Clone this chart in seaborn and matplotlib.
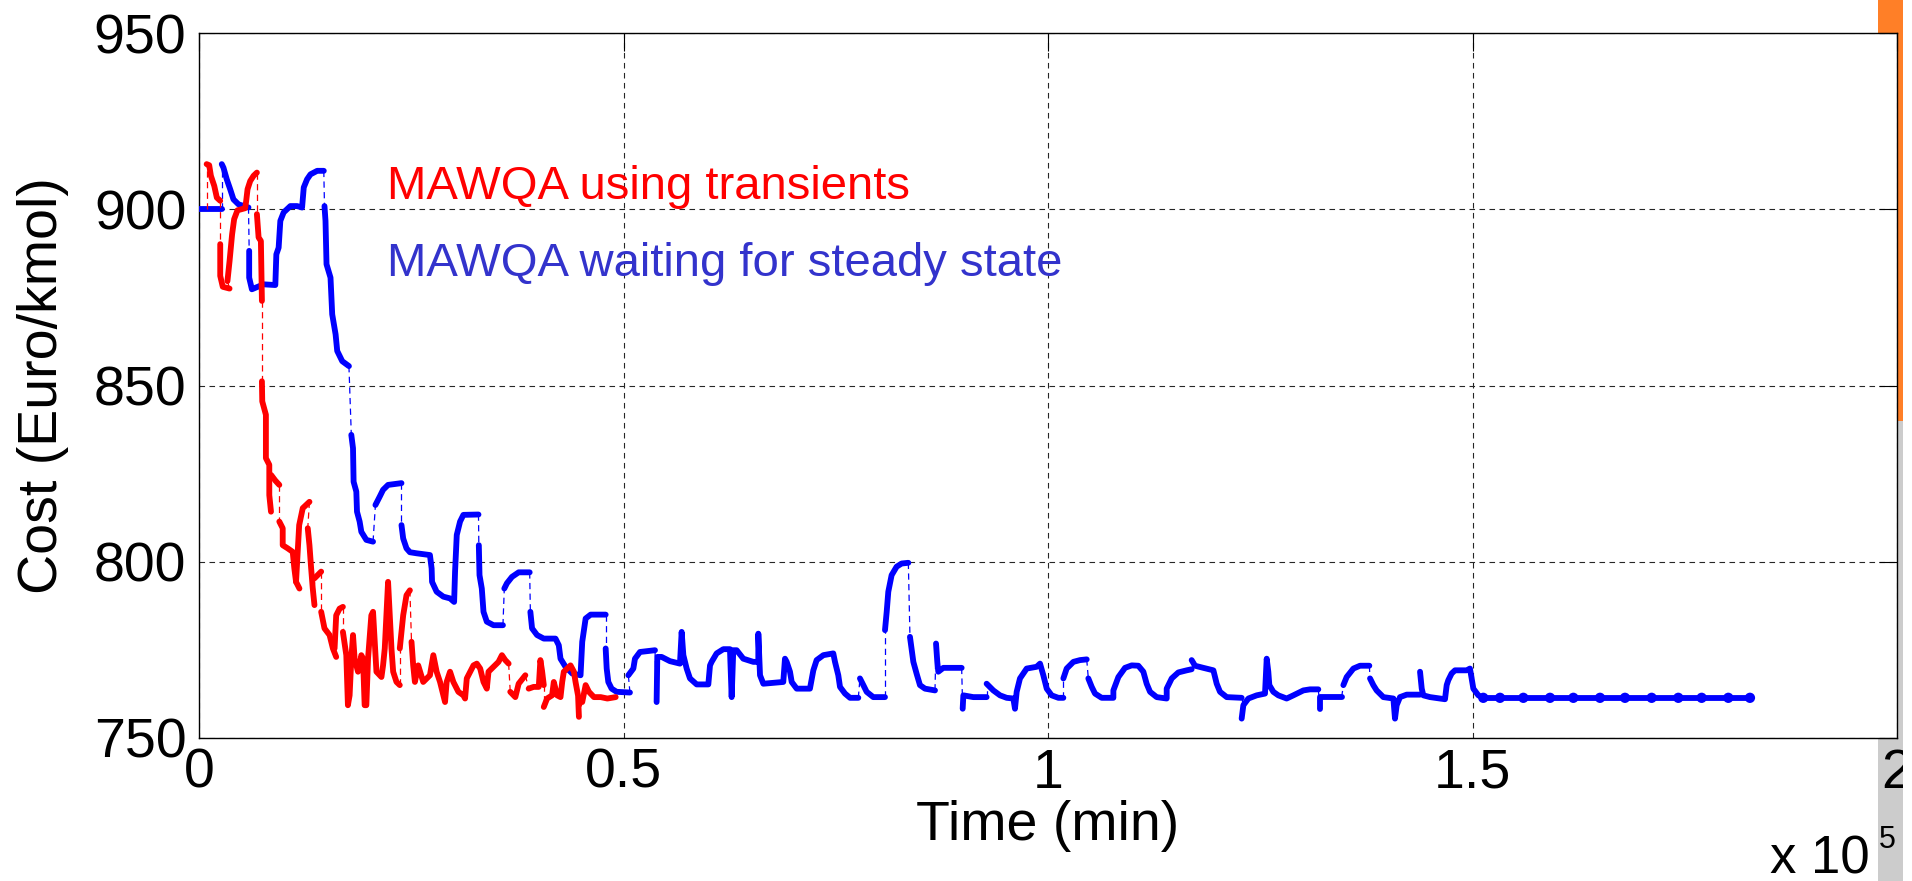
import numpy as np
import pandas as pd
import matplotlib
matplotlib.use("Agg")
import matplotlib.pyplot as plt
import seaborn as sns
from matplotlib.patches import Rectangle

# Time in units of 1e5 min, cost in Euro/kmol.
# None marks a break: thick pieces are joined by thin dashed jumps.
red_points = [
    (0.009, 900.0), None,
    (0.009, 912.8), (0.012, 912.5), (0.014, 909.5), (0.018, 906.6), (0.021, 903.3), (0.025, 902.4), None,
    (0.025, 890.1), (0.025, 881.1), (0.028, 878.0), (0.036, 877.5), None,
    (0.0335, 879.6), (0.036, 885.3), (0.039, 892.9), (0.0414, 897.2), (0.0453, 899.7), (0.0544, 900.3),
    (0.0556, 902.4), (0.0572, 905.7), (0.0603, 908.0), (0.0643, 909.5), (0.0682, 910.4), None,
    (0.0682, 898.6), (0.0702, 892.0), (0.0729, 891.0), (0.0741, 874.0), None,
    (0.0741, 851.2), (0.0745, 845.5), (0.0788, 841.7), (0.0788, 829.4), (0.0828, 827.5), (0.0828, 818.9),
    (0.0848, 814.2), None,
    (0.085, 824.6), (0.09, 823.0), (0.0946, 821.8), None,
    (0.0946, 811.4), (0.0986, 809.5), (0.0986, 804.7), (0.1045, 803.8), (0.1104, 802.8), (0.1123, 798.1),
    (0.1143, 794.3), (0.1183, 792.4), None,
    (0.1143, 794.3), (0.118, 810.4), (0.1222, 815.2), (0.1301, 817.0), None,
    (0.1281, 809.5), (0.1301, 804.7), (0.1321, 798.1), (0.134, 792.4), (0.136, 787.7), None,
    (0.136, 795.3), (0.1439, 797.2), None,
    (0.1439, 785.8), (0.1478, 781.1), (0.1538, 779.2), (0.1577, 775.4), (0.1616, 773.0), None,
    (0.1597, 775.4), (0.1616, 784.8), (0.1656, 786.7), (0.1695, 787.2), None,
    (0.1695, 780.1), (0.1735, 773.5), (0.1754, 759.3), (0.1774, 762.1), (0.1794, 772.5), (0.1814, 779.2),
    (0.1833, 772.5), (0.1873, 768.8), (0.1892, 770.6), (0.1912, 773.5), (0.1932, 772.5), (0.1951, 759.3),
    (0.1971, 759.3), (0.1991, 772.5), (0.203, 784.8), (0.205, 785.8), (0.207, 777.3), (0.209, 768.8),
    (0.2149, 767.3), (0.2168, 770.6), (0.2188, 775.4), (0.2227, 794.3), (0.2247, 784.8), (0.2267, 775.4),
    (0.2287, 768.8), (0.2326, 765.9), (0.2365, 765.0), None,
    (0.2365, 775.4), (0.2405, 784.8), (0.2444, 790.5), (0.2484, 791.9), None,
    (0.2503, 777.3), (0.2523, 770.6), (0.2543, 765.9), (0.2582, 770.6), (0.2641, 765.9), (0.272, 767.8),
    (0.276, 773.5), (0.2799, 768.8), (0.2839, 765.9), (0.2898, 760.2), (0.2917, 765.9), (0.2957, 768.8),
    (0.2996, 765.9), (0.3055, 763.1), (0.3114, 762.1), (0.3134, 761.2), (0.3154, 766.9), (0.3233, 770.6),
    (0.3272, 771.1), (0.3312, 769.7), (0.3351, 765.9), (0.339, 764.0), (0.341, 768.8), (0.3469, 770.2),
    (0.3528, 771.6), (0.3568, 773.5), (0.3607, 772.1), (0.3647, 771.1), None,
    (0.3666, 763.1), (0.3726, 761.6), (0.3765, 765.4), (0.3844, 767.8), None,
    (0.3883, 764.0), (0.3942, 764.5), (0.4002, 764.5), (0.4021, 772.1), (0.4041, 769.0), (0.4061, 765.0), None,
    (0.4061, 758.8), (0.41, 761.2), (0.4159, 762.1), (0.4179, 765.9), (0.4218, 762.1), (0.4258, 761.6),
    (0.4278, 765.9), (0.4297, 768.8), (0.4337, 769.7), (0.4376, 770.6), (0.4396, 769.7), (0.4416, 768.8),
    (0.4435, 765.9), (0.4465, 762.0), (0.4475, 756.0), None,
    (0.4514, 760.2), (0.4554, 765.0), (0.4593, 763.1), (0.4652, 761.6), (0.4731, 761.6), (0.481, 761.2),
    (0.4908, 761.6),
]

blue_points = [
    (0.0, 900.0), (0.0268, 900.0), None,
    (0.0268, 912.8), (0.0288, 911.8), (0.0327, 908.5), (0.0367, 905.7), (0.0406, 902.8), (0.0465, 901.4),
    (0.0583, 900.5), None,
    (0.0591, 888.2), (0.0591, 880.6), (0.0623, 877.3), (0.0761, 878.7), (0.0899, 878.5), (0.0911, 887.2),
    (0.0938, 889.1), (0.0958, 896.7), (0.0997, 899.1), (0.1076, 900.9), (0.1155, 900.9), (0.1214, 900.5),
    (0.1234, 906.2), (0.1273, 908.5), (0.1313, 909.9), (0.1392, 910.9), (0.147, 910.9), None,
    (0.1478, 900.9), (0.149, 896.7), (0.1502, 884.4), (0.1549, 880.6), (0.1569, 870.2), (0.1609, 864.5),
    (0.1628, 859.8), (0.1687, 856.9), (0.1766, 855.5), None,
    (0.1794, 836.0), (0.1814, 832.2), (0.1821, 822.7), (0.1853, 819.9), (0.1861, 814.2), (0.1892, 811.4),
    (0.1912, 808.5), (0.1971, 806.2), (0.205, 805.7), None,
    (0.2078, 816.1), (0.2129, 818.5), (0.2168, 820.4), (0.2227, 821.8), (0.2385, 822.3), None,
    (0.2385, 810.4), (0.2405, 806.6), (0.2444, 803.8), (0.2484, 802.7), (0.2563, 802.4), (0.272, 801.9),
    (0.274, 798.1), (0.2745, 794.3), (0.2799, 791.5), (0.2878, 790.1), (0.2957, 789.6), (0.3005, 788.6),
    (0.3016, 797.2), (0.3036, 807.6), (0.3075, 811.4), (0.3114, 813.3), (0.3292, 813.4), None,
    (0.3296, 804.7), (0.3304, 796.2), (0.3331, 792.4), (0.3351, 785.8), (0.339, 783.0), (0.3469, 782.0),
    (0.358, 782.0), None,
    (0.3596, 792.4), (0.3627, 793.9), (0.3686, 795.7), (0.3765, 797.0), (0.3895, 797.0), None,
    (0.3903, 785.8), (0.3923, 781.1), (0.3982, 779.2), (0.4061, 778.2), (0.4199, 778.2), (0.4238, 776.3),
    (0.4258, 772.5), (0.4317, 770.2), (0.4396, 768.3), (0.4494, 767.8), (0.4514, 777.3), (0.4554, 783.9),
    (0.4613, 785.0), (0.479, 785.0), None,
    (0.479, 775.4), (0.4802, 769.7), (0.4821, 765.9), (0.486, 764.0), (0.4919, 763.1), (0.5076, 762.9), None,
    (0.5057, 767.8), (0.5116, 769.7), (0.5135, 772.5), (0.5194, 774.4), (0.5371, 774.9), None,
    (0.539, 760.2), (0.5398, 773.0), (0.5449, 773.0), (0.5547, 771.8), (0.5665, 771.1), (0.5685, 780.1),
    (0.5705, 773.5), (0.5744, 769.7), (0.5783, 766.9), (0.5862, 765.2), (0.5999, 765.2), (0.6019, 770.6),
    (0.6038, 771.6), (0.6097, 774.0), (0.6176, 775.2), (0.6254, 775.2), (0.6274, 761.6), (0.6293, 774.9),
    (0.6333, 774.9), (0.6411, 772.5), (0.6529, 771.6), (0.6588, 771.6), (0.6588, 779.6), (0.6608, 767.8),
    (0.6647, 765.4), (0.6882, 765.9), (0.6902, 772.5), (0.6922, 771.6), (0.6961, 768.8), (0.6981, 765.9),
    (0.704, 764.0), (0.7196, 764.0), (0.7236, 769.2), (0.7275, 772.1), (0.7354, 773.5), (0.7471, 774.0),
    (0.7491, 771.6), (0.753, 767.8), (0.755, 764.5), (0.7609, 762.6), (0.7668, 761.4), (0.7766, 761.4), None,
    (0.7785, 766.9), (0.7825, 765.0), (0.7864, 763.1), (0.7942, 761.6), (0.808, 761.6), None,
    (0.808, 780.6), (0.81, 785.8), (0.8119, 791.5), (0.8158, 796.2), (0.8217, 798.6), (0.8276, 799.5),
    (0.8355, 799.7), None,
    (0.8374, 778.7), (0.8414, 771.6), (0.8453, 768.2), (0.8492, 765.0), (0.8551, 764.0), (0.8669, 763.5), None,
    (0.8681, 776.8), (0.8696, 771.6), (0.8708, 768.8), (0.8767, 769.9), (0.8983, 769.9), None,
    (0.8995, 758.3), (0.9003, 762.1), (0.912, 761.6), (0.9277, 761.6), None,
    (0.9277, 765.4), (0.9356, 763.5), (0.9435, 762.1), (0.9513, 761.4), (0.9592, 761.2), (0.9611, 758.3),
    (0.9631, 763.1), (0.967, 766.9), (0.9749, 769.7), (0.9866, 770.2), (0.9906, 771.1), (0.9945, 767.8),
    (0.9985, 764.0), (1.0043, 762.1), (1.0122, 761.4), (1.0181, 761.4), None,
    (1.0181, 766.9), (1.022, 769.7), (1.0299, 771.6), (1.0377, 772.1), (1.0456, 772.3), None,
    (1.0475, 766.9), (1.0515, 764.5), (1.0554, 762.6), (1.0632, 761.4), (1.077, 761.4), (1.077, 763.5),
    (1.0829, 767.3), (1.0907, 769.9), (1.0986, 770.6), (1.1064, 770.5), (1.1123, 768.8), (1.1162, 765.4),
    (1.1202, 763.1), (1.128, 761.6), (1.1398, 761.2), (1.1398, 764.0), (1.1457, 766.9), (1.1535, 768.6),
    (1.1634, 769.2), (1.1692, 769.5), None,
    (1.1692, 772.1), (1.1732, 770.5), (1.183, 769.9), (1.1948, 769.2), (1.1987, 765.4), (1.2026, 763.1),
    (1.2105, 761.6), (1.2281, 761.4), None,
    (1.2281, 755.5), (1.2301, 759.3), (1.236, 761.2), (1.2458, 762.1), (1.2556, 762.6), (1.2576, 772.5),
    (1.2595, 768.8), (1.2607, 765.0), (1.2654, 763.1), (1.2713, 762.1), (1.2811, 761.2), (1.289, 762.1),
    (1.3008, 763.5), (1.3086, 763.8), (1.3184, 763.8), None,
    (1.3204, 758.3), (1.3204, 761.6), (1.3322, 761.6), (1.3459, 761.6), None,
    (1.3479, 765.0), (1.3518, 767.3), (1.3597, 769.7), (1.3675, 770.5), (1.3785, 770.5), None,
    (1.3793, 766.9), (1.3832, 765.0), (1.3871, 763.5), (1.395, 761.6), (1.4068, 761.2), (1.4087, 755.5),
    (1.4107, 759.3), (1.4146, 761.6), (1.4225, 762.3), (1.4382, 762.3), None,
    (1.4382, 768.8), (1.4402, 764.0), (1.4421, 762.1), (1.45, 761.6), (1.4676, 761.0), (1.4696, 765.0),
    (1.4715, 766.4), (1.4754, 768.3), (1.4794, 769.2), (1.4931, 769.2), (1.497, 769.7), (1.499, 766.9),
    (1.501, 764.0), (1.5069, 762.1), (1.5127, 761.4), None,
    (1.5127, 761.4), (1.5324, 761.4), (1.5599, 761.4), (1.5913, 761.4), (1.6188, 761.4), (1.6502, 761.4),
    (1.6796, 761.4), (1.711, 761.4), (1.7424, 761.4), (1.7699, 761.4), (1.8013, 761.4), (1.8268, 761.4),
]

x_ticks = [0, 0.5, 1, 1.5, 2]
x_tick_labels = ["0", "0.5", "1", "1.5", "2"]
y_ticks = [750, 800, 850, 900, 950]
red_label = "MAWQA using transients"
blue_label = "MAWQA waiting for steady state"


def to_frame(points):
    rows, seg = [], 0
    for p in points:
        if p is None:
            seg += 1
            continue
        rows.append((seg, p[0], p[1]))
    return pd.DataFrame(rows, columns=["seg", "time", "cost"])


def jumps(df):
    # thin dashed link from the end of one piece to the start of the next
    rows = []
    segs = sorted(df["seg"].unique())
    for a, b in zip(segs[:-1], segs[1:]):
        last = df[df["seg"] == a].iloc[-1]
        first = df[df["seg"] == b].iloc[0]
        rows.append((a, last["time"], last["cost"]))
        rows.append((a, first["time"], first["cost"]))
    return pd.DataFrame(rows, columns=["seg", "time", "cost"])


red_df = to_frame(red_points)
blue_df = to_frame(blue_points)

sns.set_style("white")
plt.rcParams["font.family"] = ["Liberation Sans", "DejaVu Sans"]
plt.rcParams["text.color"] = "black"
plt.rcParams["axes.labelcolor"] = "black"
plt.rcParams["xtick.color"] = "black"
plt.rcParams["ytick.color"] = "black"

fig = plt.figure(figsize=(19.12, 8.81), dpi=100)
# strips at the right border of the original capture
fig.add_artist(Rectangle((1878 / 1912, 460 / 881), 25 / 1912, 421 / 881, transform=fig.transFigure,
                         facecolor="#ff7f27", edgecolor="none", zorder=-5))
fig.add_artist(Rectangle((1878 / 1912, 0), 25 / 1912, 460 / 881, transform=fig.transFigure,
                         facecolor="#cccccc", edgecolor="none", zorder=-5))

ax = fig.add_axes([199 / 1912, 143 / 881, 1698 / 1912, 705 / 881])
ax.set_facecolor("white")

for df, col, z in [(blue_df, "#0000ff", 3), (red_df, "#ff0000", 4)]:
    sns.lineplot(data=jumps(df), x="time", y="cost", units="seg", estimator=None, sort=False,
                 color=col, linewidth=0.9, linestyle=(0, (5, 3.5)), ax=ax, legend=False, zorder=z)
    sns.lineplot(data=df, x="time", y="cost", units="seg", estimator=None, sort=False,
                 color=col, linewidth=4.2, solid_capstyle="round", solid_joinstyle="round",
                 ax=ax, legend=False, zorder=z)

last_blue = blue_df[blue_df["seg"] == blue_df["seg"].max()]
sns.scatterplot(data=last_blue, x="time", y="cost", color="#0000ff", s=55, edgecolor="none",
                ax=ax, legend=False, zorder=3)

ax.text(0.221, 902.8, red_label, color="#ff0000", fontsize=34, va="baseline", ha="left")
ax.text(0.221, 881.0, blue_label, color="#3333cc", fontsize=34, va="baseline", ha="left")

ax.set_xlim(0, 2)
ax.set_ylim(750, 950)
ax.set_xticks(x_ticks)
ax.set_xticklabels(x_tick_labels)
ax.set_yticks(y_ticks)
ax.set_yticklabels([str(v) for v in y_ticks])
ax.grid(True, color="0.15", linewidth=0.8, linestyle=(0, (5, 4)))
ax.set_axisbelow(True)
ax.tick_params(direction="in", length=13, width=0.8, top=True, right=True, labelsize=40,
               color="black", labelcolor="black")
ax.tick_params(axis="x", pad=7)
ax.tick_params(axis="y", pad=9)
for sp in ax.spines.values():
    sp.set_color("black")
    sp.set_linewidth(1.0)

ax.set_xlabel("Time (min)", fontsize=40, labelpad=0, color="black")
ax.set_ylabel("Cost (Euro/kmol)", fontsize=40, labelpad=18, color="black")

fig.text(1770 / 1912, 8 / 881, "x 10", fontsize=38, va="baseline", ha="left", color="black")
fig.text(1879 / 1912, 33 / 881, "5", fontsize=22, va="baseline", ha="left", color="black")

# white border cut on the far right
fig.add_artist(Rectangle((1903 / 1912, 0), 9 / 1912, 1, transform=fig.transFigure,
                         facecolor="white", edgecolor="none", zorder=20))

fig.savefig("out.png", dpi=100)
